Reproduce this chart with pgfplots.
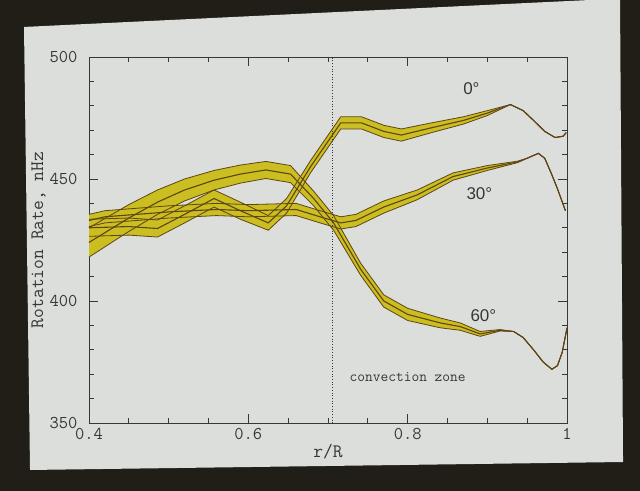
\documentclass[border=0pt]{standalone}
\usepackage{fontspec}
\setmainfont{Liberation Serif}
\setsansfont{Liberation Sans}
\usepackage{pgfplots}
\pgfplotsset{compat=1.18}
\usepgfplotslibrary{fillbetween}
\usepackage{pgfplotstable}

\definecolor{band}{RGB}{202,190,32}
\definecolor{edge}{RGB}{95,68,22}
\definecolor{slide}{RGB}{220,222,219}
\definecolor{dark}{RGB}{32,30,22}
\definecolor{ink}{RGB}{55,55,55}

% 60 degree
\pgfplotstableread{
x lo mid hi
0.400 418 424 430
0.450 428.5 434 439.5
0.486 435.5 440.5 445.5
0.520 441 445.5 450
0.557 445.5 449.5 453.5
0.590 448.3 452 455.7
0.622 450.2 453.7 457.2
0.653 448.5 452 455.5
0.682 439 442 445
0.707 429 432 435
0.741 410.5 413 415.5
0.770 397.5 400 402.5
0.800 392 394.5 397
0.841 389 391 393
0.866 388 389.5 391
0.891 385.5 386.5 387.5
0.916 387.7 388 388.3
0.933 387.5 387.5 387.5
0.945 385 385 385
0.958 380 380 380
0.970 375 375 375
0.981 372 372 372
0.988 373.5 373.5 373.5
0.994 379 379 379
1.000 389 389 389
}\tA

% 0 degree
\pgfplotstableread{
x lo mid hi
0.400 426.5 430 433.5
0.450 427 430.5 434
0.486 426.2 429.7 433.2
0.520 432 435.5 439
0.557 438.5 442 445.5
0.590 433.5 437 440.5
0.625 429 432 435
0.648 436 439 442
0.678 452.5 455 457.5
0.716 470.5 473 475.5
0.742 470.5 473 475.5
0.770 467 469.5 472
0.792 465.5 468 470.5
0.830 469 471 473
0.870 472.5 474 475.5
0.900 476 477 478
0.929 480.5 480.5 480.5
0.945 478 478 478
0.958 474 474 474
0.972 469.5 469.5 469.5
0.985 467 467 467
0.995 467.5 467.5 467.5
0.999 469 469 469
}\tB

% 30 degree
\pgfplotstableread{
x lo mid hi
0.400 430.5 433 435.5
0.420 432 434.5 437
0.460 433 435.5 438
0.500 434 436.5 439
0.560 435 437.5 440
0.600 434.5 437 439.5
0.660 435 437.5 440
0.690 432 434.5 437
0.716 429.5 432 434.5
0.735 430.5 433 435.5
0.770 436 438.5 441
0.812 441.5 443.5 445.5
0.857 449.5 451 452.5
0.900 453.5 454.5 455.5
0.938 456.7 457 457.3
0.950 458.5 458.5 458.5
0.964 460.5 460.5 460.5
0.972 458.5 458.5 458.5
0.980 452.5 452.5 452.5
0.988 446 446 446
0.998 437 437 437
}\tC

\begin{document}
\begin{tikzpicture}
\begin{axis}[
  set layers, clip=false,
  at={(89pt,68pt)}, anchor=south west,
  scale only axis, width=478pt, height=366pt,
  xmin=0.4, xmax=1, ymin=350, ymax=500,
  xtick={0.4,0.6,0.8,1}, xticklabels={0.4,0.6,0.8,1},
  minor xtick={0.45,0.5,0.55,0.65,0.7,0.75,0.85,0.9,0.95},
  ytick={350,400,450,500}, yticklabels={350,400,450,500},
  minor ytick={360,370,380,390,410,420,430,440,460,470,480,490},
  major tick length=9pt, minor tick length=5pt,
  axis line style={ink, line width=0.7pt},
  tick style={ink, line width=0.7pt},
  /pgf/number format/assume math mode=true,
  tick label style={font=\fontsize{18}{18}\selectfont\ttfamily, text=ink},
  xticklabel style={yshift=-2pt},
  yticklabel style={xshift=-8pt},
  xlabel={r/R}, ylabel={Rotation Rate, nHz},
  xlabel style={font=\fontsize{19}{19}\selectfont\ttfamily, text=ink, yshift=3pt},
  ylabel style={font=\fontsize{19}{19}\selectfont\ttfamily, text=ink, yshift=-3pt},
]
\begin{pgfonlayer}{axis background}
\fill[dark] (rel axis cs:-0.1862,-0.1858) rectangle (rel axis cs:1.1527,1.1557);
\fill[slide] (rel axis cs:-0.136,1.082) -- (rel axis cs:1.0481,1.1557) -- (rel axis cs:1.1109,1.1557) -- (rel axis cs:1.1172,-0.1066) -- (rel axis cs:-0.1234,-0.1284) -- cycle;
\end{pgfonlayer}
% band outlines as paths
\addplot[draw=none, name path=Au] table[x=x,y=hi]{\tA};
\addplot[draw=none, name path=Al] table[x=x,y=lo]{\tA};
\addplot[draw=none, name path=Bu] table[x=x,y=hi]{\tB};
\addplot[draw=none, name path=Bl] table[x=x,y=lo]{\tB};
\addplot[draw=none, name path=Cu] table[x=x,y=hi]{\tC};
\addplot[draw=none, name path=Cl] table[x=x,y=lo]{\tC};
\addplot[band] fill between[of=Cu and Cl];
\addplot[band] fill between[of=Au and Al];
\addplot[band] fill between[of=Bu and Bl];
% lines
\addplot[edge, line width=0.8pt] table[x=x,y=hi]{\tC};
\addplot[edge, line width=0.8pt] table[x=x,y=lo]{\tC};
\addplot[edge, line width=1.1pt] table[x=x,y=mid]{\tC};
\addplot[edge, line width=0.8pt] table[x=x,y=hi]{\tA};
\addplot[edge, line width=0.8pt] table[x=x,y=lo]{\tA};
\addplot[edge, line width=1.1pt] table[x=x,y=mid]{\tA};
\addplot[edge, line width=0.8pt] table[x=x,y=hi]{\tB};
\addplot[edge, line width=0.8pt] table[x=x,y=lo]{\tB};
\addplot[edge, line width=1.1pt] table[x=x,y=mid]{\tB};
% base of convection zone
\addplot[ink, dotted, line width=0.7pt] coordinates {(0.705,350) (0.705,500)};
\node[font=\fontsize{17}{17}\selectfont\sffamily, text=ink] at (axis cs:0.880,487) {0°};
\node[font=\fontsize{17}{17}\selectfont\sffamily, text=ink] at (axis cs:0.890,444) {30°};
\node[font=\fontsize{17}{17}\selectfont\sffamily, text=ink] at (axis cs:0.895,394) {60°};
\node[font=\fontsize{15}{15}\selectfont\ttfamily, text=ink] at (axis cs:0.800,369) {convection zone};
\end{axis}
\end{tikzpicture}
\end{document}
